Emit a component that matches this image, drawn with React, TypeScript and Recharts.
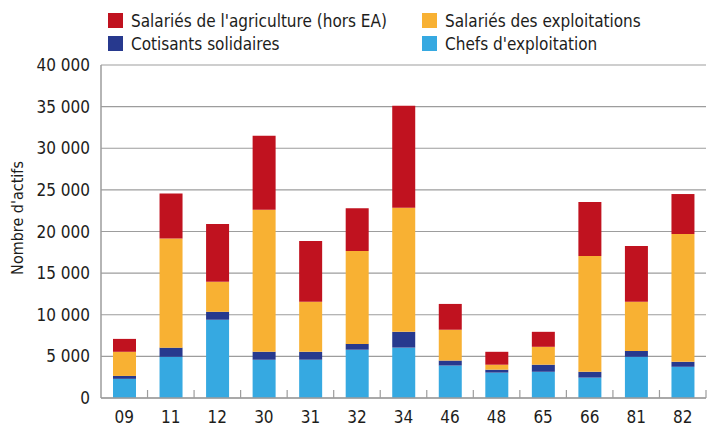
import React from 'react';
import { BarChart, Bar, XAxis, YAxis, CartesianGrid } from 'recharts';

const categories = ['09', '11', '12', '30', '31', '32', '34', '46', '48', '65', '66', '81', '82'];
const chefs = [2300, 4950, 9400, 4600, 4600, 5800, 6050, 3900, 3050, 3150, 2450, 4950, 3750];
const cotisants = [350, 1100, 950, 950, 950, 700, 1900, 600, 350, 850, 700, 700, 600];
const salariesExpl = [2900, 13100, 3600, 17050, 6000, 11150, 14900, 3700, 600, 2150, 13900, 5900, 15350];
const salariesAgri = [1550, 5400, 6950, 8900, 7300, 5150, 12250, 3100, 1550, 1800, 6500, 6700, 4800];
const yTicks = [0, 5000, 10000, 15000, 20000, 25000, 30000, 35000, 40000];

const data = categories.map((c, i) => ({
    dep: c,
    chefs: chefs[i],
    cotisants: cotisants[i],
    salariesExpl: salariesExpl[i],
    salariesAgri: salariesAgri[i],
}));

const FONT = "'DejaVu Sans Condensed', 'Liberation Sans Narrow', Roboto, sans-serif";
const TEXT = '#1d1d1b';
const GRID = '#9d9d9d';

const RED = '#c0121f';
const ORANGE = '#f8b133';
const NAVY = '#27398e';
const BLUE = '#36a9e1';

const legendItems = [
    { label: "Salariés de l'agriculture (hors EA)", color: RED },
    { label: 'Salariés des exploitations', color: ORANGE },
    { label: 'Cotisants solidaires', color: NAVY },
    { label: "Chefs d'exploitation", color: BLUE },
];

const WIDTH = 717;
const HEIGHT = 427;
const X_AXIS_H = 29;
const MARGIN = { top: 65, right: 11, bottom: 0, left: 0 };
const Y_AXIS_W = 101;
const PLOT_W = WIDTH - MARGIN.left - MARGIN.right - Y_AXIS_W;
const BAND = PLOT_W / categories.length;
const PLOT_BOTTOM = HEIGHT - X_AXIS_H;

const formatTick = (v: number) => (v === 0 ? '0' : `${v / 1000} 000`);

const XTick = (props: any) => {
    const { x, payload } = props;
    const right = x + BAND / 2;
    return (
        <g>
            <line x1={right} y1={PLOT_BOTTOM} x2={right} y2={PLOT_BOTTOM - 8} stroke={GRID} strokeWidth={1.2} />
            <text x={x} y={PLOT_BOTTOM + 25} textAnchor="middle" fill={TEXT} fontSize={17} fontFamily={FONT}>
                {payload.value}
            </text>
        </g>
    );
};

const ChartLegend = () => (
    <div
        style={{
            position: 'absolute',
            top: 13,
            left: 108,
            display: 'grid',
            gridTemplateColumns: '314px 300px',
            rowGap: 8,
            fontFamily: FONT,
            fontSize: 17,
            color: TEXT,
        }}
    >
        {legendItems.map((item) => (
            <div key={item.label} style={{ display: 'flex', alignItems: 'center', height: 15 }}>
                <span style={{ width: 15, height: 15, background: item.color, display: 'inline-block', marginRight: 8 }} />
                <span>{item.label}</span>
            </div>
        ))}
    </div>
);

const App: React.FC = () => {
    return (
        <div style={{ position: 'absolute', left: 0, top: 0, width: WIDTH, height: HEIGHT, background: '#fff' }}>
            <BarChart width={WIDTH} height={HEIGHT} data={data} margin={MARGIN} barSize={23}>
                <CartesianGrid vertical={false} stroke={GRID} strokeWidth={1.2} />
                <XAxis
                    dataKey="dep"
                    height={X_AXIS_H}
                    tickLine={false}
                    axisLine={{ stroke: GRID, strokeWidth: 1.5 }}
                    tick={<XTick />}
                    interval={0}
                />
                <YAxis
                    width={Y_AXIS_W}
                    domain={[0, 40000]}
                    ticks={yTicks}
                    tickFormatter={formatTick}
                    tickLine={false}
                    tickSize={0}
                    tickMargin={11}
                    axisLine={{ stroke: GRID, strokeWidth: 1.5 }}
                    tick={{ fill: TEXT, fontSize: 17, fontFamily: FONT }}
                    interval={0}
                    label={{
                        content: () => (
                            <text x={17} y={218} transform="rotate(-90 17 218)" textAnchor="middle" dominantBaseline="central" fill={TEXT} fontSize={16} fontFamily={FONT}>
                                Nombre d'actifs
                            </text>
                        ),
                    }}
                />
                <Bar dataKey="chefs" stackId="a" fill={BLUE} isAnimationActive={false} />
                <Bar dataKey="cotisants" stackId="a" fill={NAVY} isAnimationActive={false} />
                <Bar dataKey="salariesExpl" stackId="a" fill={ORANGE} isAnimationActive={false} />
                <Bar dataKey="salariesAgri" stackId="a" fill={RED} isAnimationActive={false} />
            </BarChart>
            <ChartLegend />
        </div>
    );
};

export default App;
